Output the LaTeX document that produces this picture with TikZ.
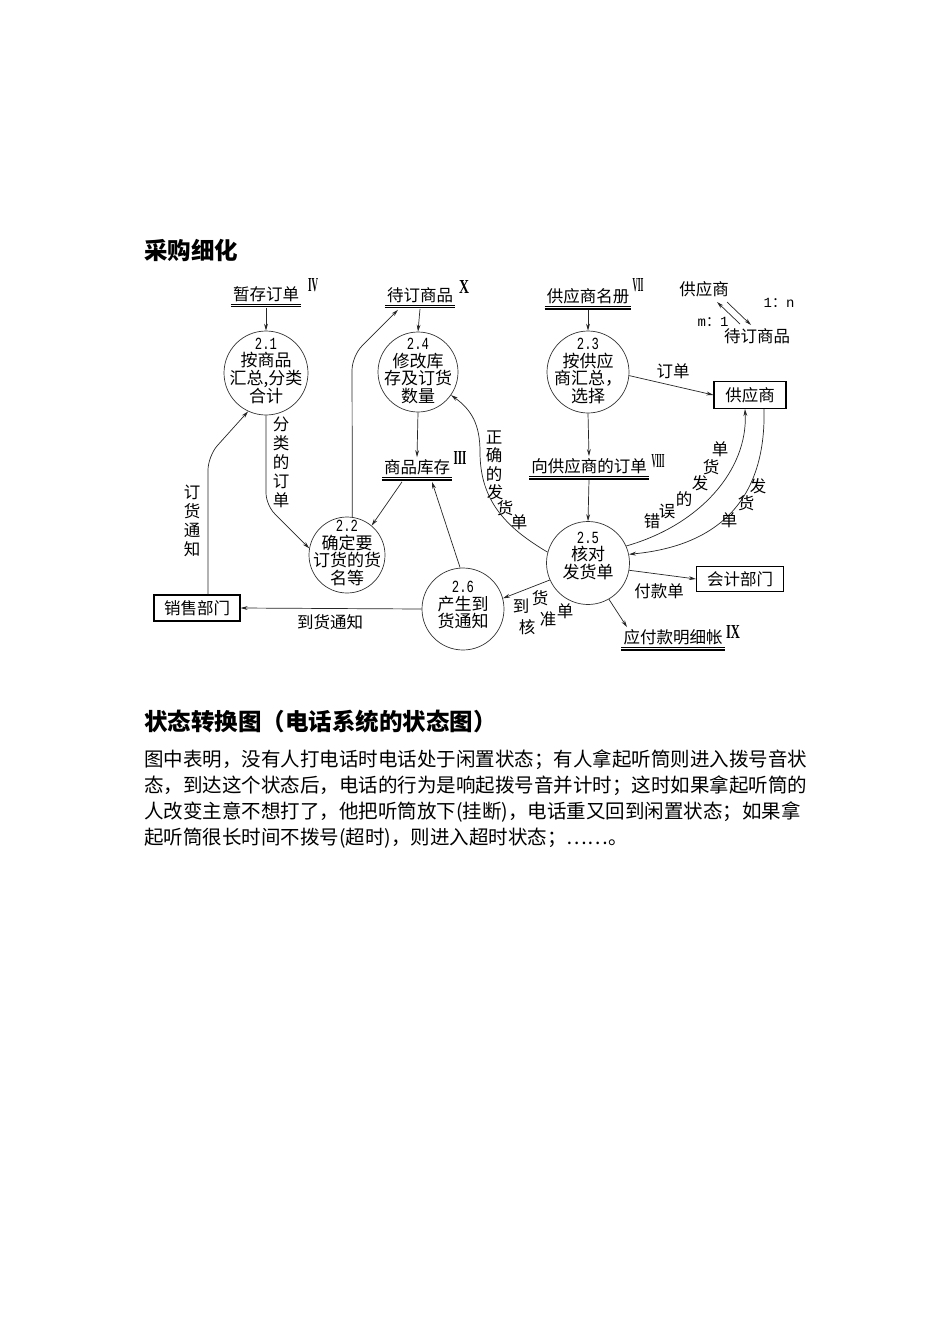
\documentclass[tikz,border=0pt]{standalone}
\usepackage{fontspec}
\usepackage{graphicx}
\usetikzlibrary{arrows.meta}
\setmainfont{Noto Sans CJK SC}
\newfontfamily\monof{Liberation Mono}
\newfontfamily\romf{Liberation Serif}
\newcommand\fs[1]{\fontsize{#1}{#1}\selectfont}
\newcommand\numf[1]{\scalebox{0.72}[1]{\monof\fs{17}#1}}
\newcommand\rn[2]{\resizebox{#1pt}{13pt}{\romf\bfseries #2}}
\newcommand\dblund[1]{%
  \draw[line width=0.6pt] ([xshift=-1pt]#1.south west) -- ([xshift=1pt]#1.south east);
  \draw[line width=1.3pt] ([xshift=-1pt,yshift=-3pt]#1.south west) -- ([xshift=1pt,yshift=-3pt]#1.south east);}
\tikzset{
  ln/.style={line width=0.7pt, draw=black!85},
  arr/.style={ln, -{Stealth[length=7pt,width=3.8pt]}},
  proc/.style={circle, draw=black!80, line width=0.7pt, minimum size=82pt, inner sep=0pt},
  ptext/.style={align=center, font=\fontsize{17}{17.5}\selectfont, inner sep=0pt},
  store/.style={font=\fs{16.5}, inner xsep=1pt, inner ysep=2pt},
  ent/.style={draw, line width=1.1pt, font=\fs{16.5}, inner sep=0pt},
  lbl/.style={font=\fs{16.5}, inner sep=0pt},
  vlbl/.style={font=\fontsize{16.5}{19}\selectfont, align=center, inner sep=0pt},
  supx/.style={inner sep=0pt},
  para/.style={anchor=west, font=\fs{19.5}, inner sep=0pt}
}
\begin{document}
\begin{tikzpicture}[x=1pt,y=-1pt]
\useasboundingbox (0,0) rectangle (950,1344);
\fill[white] (0,0) rectangle (950,1344);

% heading
\node[anchor=west, font=\bfseries\fs{23.5}, inner sep=0pt] (t1) at (144,250) {采购细化};

% processes
\node[proc, minimum size=84pt] (p21) at (266,373) {};
\node[ptext] (p21t) at (266,371) {\numf{2.1}\\按商品\\汇总,分类\\合计};
\node[proc, minimum size=80pt] (p24) at (418,372) {};
\node[ptext] (p24t) at (418,371) {\numf{2.4}\\修改库\\存及订货\\数量};
\node[proc, minimum size=82pt] (p23) at (588,372) {};
\node[ptext] (p23t) at (588,371) {\numf{2.3}\\按供应\\商汇总，\\选择};
\node[proc, minimum size=76pt] (p22) at (347,555) {};
\node[ptext] (p22t) at (347,553) {\numf{2.2}\\确定要\\订货的货\\名等};
\node[proc, minimum size=82pt] (p26) at (463,609) {};
\node[ptext] (p26t) at (463,605) {\numf{2.6}\\产生到\\货通知};
\node[proc, minimum size=83pt] (p25) at (588,563) {};
\node[ptext] (p25t) at (588,556) {\numf{2.5}\\核对\\发货单};

% data stores
\node[store] (s4) at (266,294) {暂存订单};
\node[store] (s10) at (420,295) {待订商品};
\node[store] (s7) at (588,296) {供应商名册};
\node[store] (s3) at (417,467) {商品库存};
\node[store] (s8) at (589,466) {向供应商的订单};
\node[store] (s9) at (673,637) {应付款明细帐};
\dblund{s4}\dblund{s10}\dblund{s7}\dblund{s3}\dblund{s8}\dblund{s9}
\node[supx] (r4) at (313,285) {\rn{10}{IV}};
\node[supx] (r10) at (464,287) {\rn{10}{X}};
\node[supx] (r7) at (638,285) {\rn{11}{VII}};
\node[supx] (r3) at (460,458) {\rn{13}{III}};
\node[supx] (r8) at (658,461) {\rn{13}{VIII}};
\node[supx] (r9) at (733,632) {\rn{14}{IX}};

% external entities
\node[ent, minimum width=72pt, minimum height=27pt] (sup) at (750,395) {供应商};
\node[ent, minimum width=87pt, minimum height=25pt] (acct) at (740,579) {会计部门};
\node[ent, minimum width=86pt, minimum height=26pt] (sales) at (197,608) {销售部门};

% legend
\node[lbl] (lgA) at (704,289) {供应商};
\node[lbl] (lgB) at (757,336) {待订商品};
\node[inner sep=0pt, font=\fs{14}] (lgC) at (779,303) {{\monof 1}：{\monof n}};
\node[inner sep=0pt, font=\fs{14}] (lgD) at (713,322) {{\monof m}：{\monof 1}};
\coordinate (la1) at (740,324);
\coordinate (la2) at (717,302);
\coordinate (lb1) at (727,302);
\coordinate (lb2) at (751,325);
\draw[arr] (la1) -- (la2);
\draw[arr] (lb1) -- (lb2);

% connectors
\draw[arr] ([yshift=-4pt]s4.south) -- (p21.north);
\draw[arr] ([yshift=-4pt]s10.south) -- (p24.north);
\draw[arr] ([yshift=-4pt]s7.south) -- (p23.north);
\draw[arr, rounded corners=12pt] (p21.south) -- (266,505) -- (p22.170);
\draw[arr, rounded corners=14pt] (p22.82) -- (352,356) -- ([xshift=-22pt,yshift=-5pt]s10.south);
\draw[arr] (p24.south) -- (s3.north);
\draw[arr] ([xshift=-15pt,yshift=-5pt]s3.south) -- (p22.50);
\draw[arr] (p26.94) -- ([xshift=15pt,yshift=-5pt]s3.south);
\draw[arr] (p26.west) -- (sales.east);
\draw[arr, rounded corners=14pt] ([xshift=11pt]sales.north) -- (208,456) -- (p21.245);
\draw[arr] (p25.165) .. controls (505,527) and (480,500) .. (480,452) .. controls (480,425) and (472,410) .. (p24.-35);
\draw[arr] (p23.-5) -- (sup.west);
\draw[arr] (p23.south) -- (s8.north);
\draw[arr] ([yshift=-4pt]s8.south) -- (p25.north);
\draw[arr] ([xshift=14pt]sup.south) .. controls (766,490) and (728,545) .. (p25.12);
\draw[arr] (p25.24) .. controls (700,525) and (748,470) .. ([xshift=-5pt]sup.south);
\draw[arr] (p25.-10) -- (acct.west);
\draw[arr] (p25.-60) -- ([xshift=-46pt]s9.north);
\draw[arr] (p25.204) -- (p26.15);

% connector labels
\node[vlbl] (l1) at (281,462) {分\\类\\的\\订\\单};
\node[vlbl] (l2) at (192,521) {订\\货\\通\\知};
\node[lbl] (l3) at (330,622) {到货通知};
\node[lbl] (l4) at (673,371) {订单};
\node[lbl] (l5) at (659,591) {付款单};
\foreach \c/\x/\y [count=\i] in {正/494/437, 确/494/455, 的/494/474, 发/495/492, 货/505/508, 单/519/522}
  \node[lbl] (la\i) at (\x,\y) {\c};
\foreach \c/\x/\y [count=\i] in {单/720/449, 货/711/467, 发/700/483, 的/684/499, 误/667/511, 错/652/521}
  \node[lbl] (lb\i) at (\x,\y) {\c};
\foreach \c/\x/\y [count=\i] in {发/758/486, 货/746/503, 单/729/520}
  \node[lbl] (lc\i) at (\x,\y) {\c};
\foreach \c/\x/\y [count=\i] in {到/521/606, 货/540/598, 核/527/627, 准/548/619, 单/565/611}
  \node[lbl] (ld\i) at (\x,\y) {\c};

% second section
\node[anchor=west, font=\bfseries\fs{23.5}, inner sep=0pt] (t2) at (144,722) {状态转换图（电话系统的状态图）};
\node[para] (q1) at (144,760) {图中表明，没有人打电话时电话处于闲置状态；有人拿起听筒则进入拨号音状};
\node[para] (q2) at (144,786) {态，到达这个状态后，电话的行为是响起拨号音并计时；这时如果拿起听筒的};
\node[para] (q3) at (144,812) {人改变主意不想打了，他把听筒放下(挂断)，电话重又回到闲置状态；如果拿};
\node[para] (q4) at (144,838) {起听筒很长时间不拨号(超时)，则进入超时状态；……。};
\end{tikzpicture}
\end{document}
